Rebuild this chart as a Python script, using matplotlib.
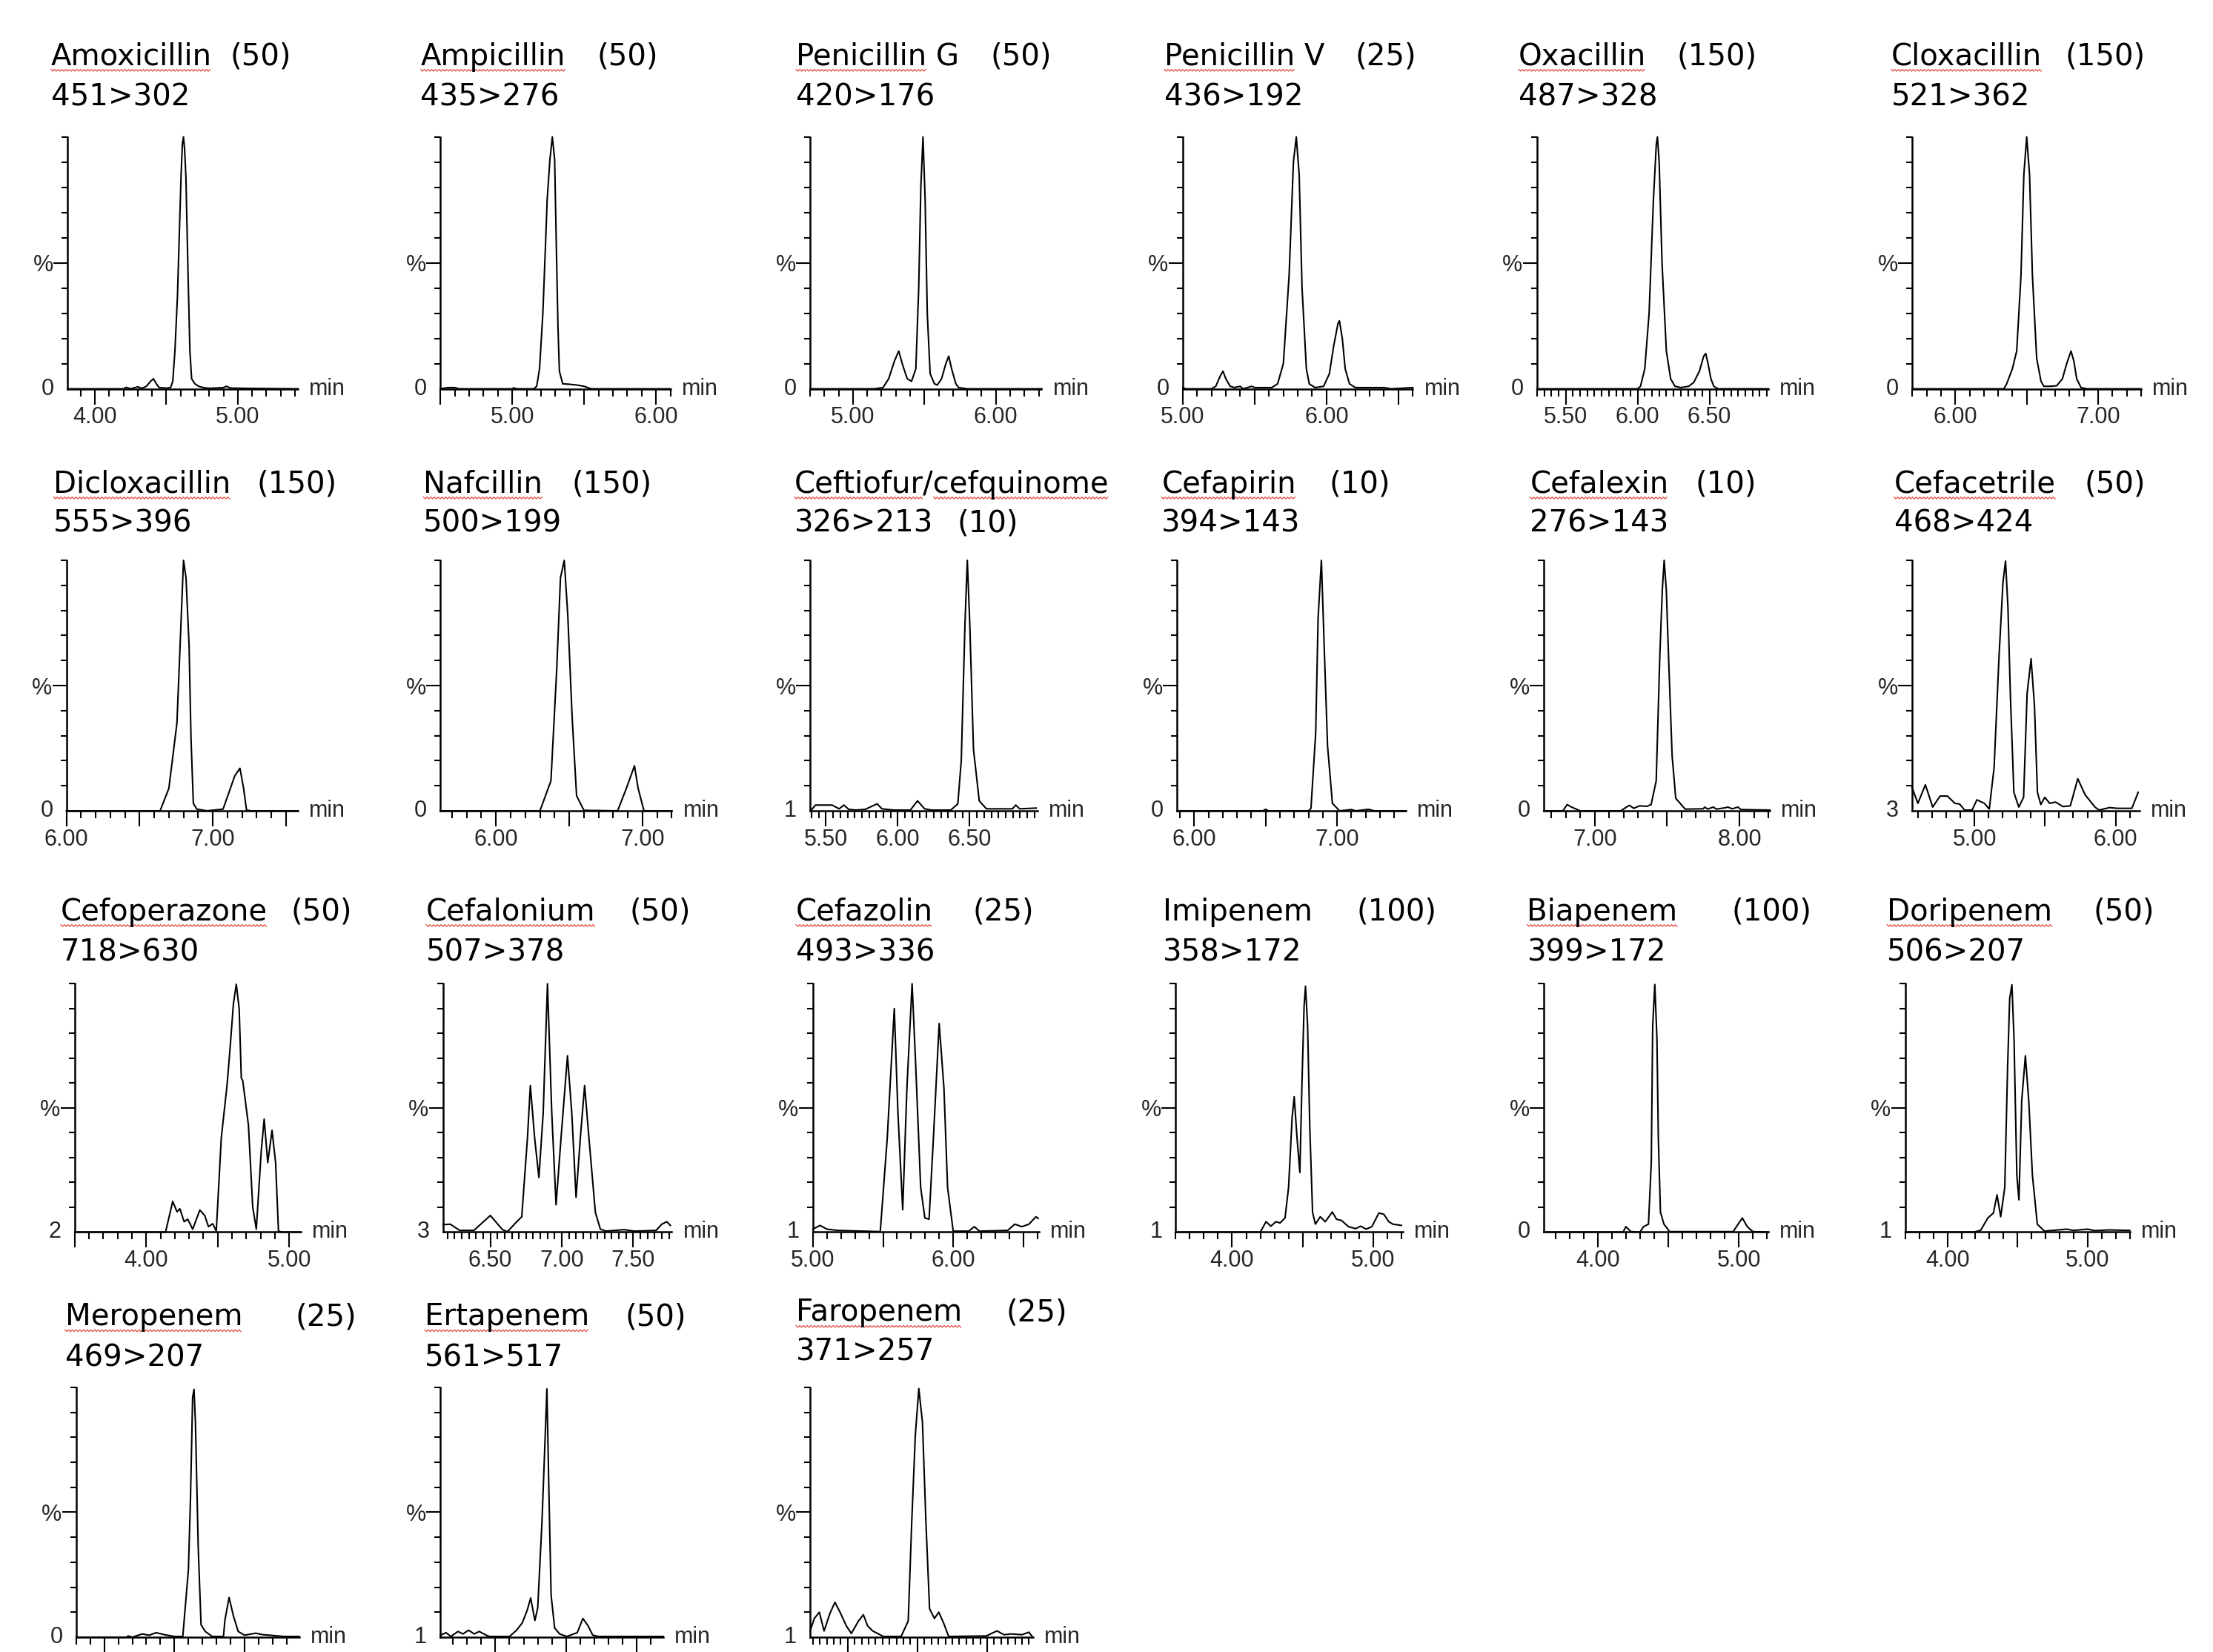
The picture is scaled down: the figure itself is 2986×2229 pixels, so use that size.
import matplotlib
matplotlib.use("Agg")
import matplotlib.pyplot as plt
import numpy as np
from matplotlib.lines import Line2D
from matplotlib.font_manager import FontProperties

# ---- chromatogram traces: (retention time [min], relative intensity [%]) ----
amoxicillin = [(3.81, 0), (4.20, 0), (4.22, 0.6), (4.25, 0), (4.30, 0.8), (4.33, 0.2), (4.36, 1.0),
               (4.39, 3.0), (4.41, 4.0), (4.43, 2.0), (4.45, 0.5), (4.50, 0.3), (4.53, 0.5), (4.545, 3),
               (4.56, 15), (4.578, 37), (4.59, 60), (4.604, 86), (4.612, 97), (4.620, 100), (4.628, 95),
               (4.637, 84), (4.653, 43), (4.665, 15), (4.677, 4), (4.70, 2), (4.726, 1), (4.76, 0.5),
               (4.80, 0.2), (4.90, 0.5), (4.92, 1.0), (4.95, 0.3), (5.05, 0.2), (5.42, 0)]
ampicillin = [(4.50, 0), (4.55, 0.5), (4.60, 0.5), (4.63, 0), (5.00, 0), (5.01, 0.4), (5.03, 0), (5.15, 0),
              (5.17, 1), (5.19, 8), (5.213, 30), (5.23, 55), (5.243, 75), (5.262, 91), (5.279, 100),
              (5.295, 91), (5.308, 53), (5.318, 25), (5.328, 7), (5.351, 2), (5.40, 1.8), (5.45, 1.5),
              (5.50, 1), (5.55, 0), (6.10, 0)]
penicillin_g = [(4.70, 0), (5.15, 0), (5.21, 0.5), (5.25, 4), (5.29, 11), (5.32, 15), (5.35, 9), (5.38, 4),
                (5.41, 3), (5.44, 8), (5.46, 40), (5.475, 80), (5.49, 100), (5.505, 75), (5.52, 30),
                (5.54, 6), (5.57, 2), (5.59, 1.5), (5.62, 4), (5.65, 10), (5.67, 13), (5.69, 8), (5.72, 2),
                (5.74, 0.5), (5.80, 0), (6.32, 0)]
penicillin_v = [(5.00, 0.5), (5.02, 0), (5.20, 0), (5.23, 1), (5.26, 5), (5.28, 7), (5.30, 4), (5.33, 1),
                (5.36, 0.5), (5.40, 1), (5.42, 0), (5.48, 1), (5.50, 0.5), (5.55, 0.5), (5.62, 0.5),
                (5.66, 2), (5.70, 10), (5.74, 45), (5.77, 90), (5.79, 100), (5.81, 85), (5.83, 40),
                (5.86, 8), (5.88, 2), (5.92, 0.5), (5.98, 1), (6.02, 6), (6.05, 17), (6.08, 26), (6.09, 27),
                (6.11, 20), (6.13, 8), (6.16, 2), (6.20, 0.5), (6.40, 0.5), (6.45, 0), (6.60, 0.5)]
oxacillin = [(5.30, 0), (6.00, 0), (6.02, 1), (6.05, 8), (6.08, 30), (6.11, 75), (6.13, 97), (6.138, 100),
             (6.15, 90), (6.17, 50), (6.20, 15), (6.23, 4), (6.26, 1), (6.30, 0.5), (6.355, 1), (6.39, 2.5),
             (6.43, 7), (6.46, 13), (6.474, 14), (6.49, 10), (6.51, 4), (6.53, 1), (6.56, 0), (6.91, 0)]
cloxacillin = [(5.70, 0), (6.34, 0), (6.36, 2), (6.40, 8), (6.43, 15), (6.46, 45), (6.48, 85), (6.50, 100),
               (6.52, 85), (6.54, 45), (6.57, 12), (6.60, 3), (6.62, 1), (6.66, 1), (6.71, 1.2), (6.75, 4),
               (6.78, 10), (6.81, 15), (6.83, 11), (6.85, 4), (6.88, 0.5), (6.92, 0), (7.30, 0)]
dicloxacillin = [(6.00, 0), (6.64, 0), (6.70, 9), (6.755, 35), (6.78, 71), (6.795, 93), (6.80, 100),
                 (6.817, 93), (6.838, 66), (6.851, 29), (6.867, 3), (6.89, 0.7), (6.93, 0.3), (6.96, 0),
                 (7.04, 0.5), (7.07, 0.7), (7.12, 9), (7.15, 14), (7.185, 17), (7.21, 9), (7.23, 0.3),
                 (7.26, 0), (7.58, 0)]
nafcillin = [(5.62, 0), (6.30, 0), (6.375, 12), (6.414, 56), (6.44, 93), (6.466, 100), (6.49, 78),
             (6.52, 37), (6.55, 6), (6.60, 0.2), (6.83, 0), (6.89, 9), (6.945, 18), (6.97, 9), (7.01, 0),
             (7.20, 0)]
ceftiofur = [(5.394, 0), (5.427, 2.3), (5.543, 2.3), (5.592, 0.8), (5.625, 2.3), (5.658, 0.6), (5.708, 0.3),
             (5.774, 0.6), (5.856, 2.8), (5.889, 0.8), (5.972, 0.3), (6.087, 0.3), (6.137, 4), (6.186, 0.8),
             (6.236, 0.3), (6.368, 0.3), (6.417, 2.8), (6.441, 20), (6.467, 75), (6.483, 100), (6.50, 75),
             (6.526, 24.5), (6.566, 4), (6.616, 0.8), (6.797, 0.8), (6.82, 2.3), (6.847, 0.8), (6.962, 1.1)]
cefapirin = [(5.88, 0), (6.48, 0), (6.50, 0.6), (6.52, 0), (6.80, 0), (6.817, 1), (6.85, 31), (6.867, 77),
             (6.89, 100), (6.91, 65), (6.933, 26), (6.967, 3), (7.017, 0), (7.10, 0.5), (7.13, 0),
             (7.22, 0.6), (7.26, 0), (7.48, 0)]
cefalexin = [(6.65, 0), (6.78, 0), (6.81, 2.5), (6.84, 1.5), (6.90, 0), (7.18, 0), (7.22, 1.5), (7.24, 2.2),
             (7.27, 1), (7.31, 2), (7.36, 1.8), (7.39, 2.5), (7.425, 12), (7.45, 62), (7.467, 88), (7.48, 100),
             (7.495, 88), (7.51, 62), (7.535, 22), (7.56, 5), (7.625, 0.7), (7.75, 0.8), (7.76, 1.5),
             (7.78, 0.7), (7.82, 1.5), (7.84, 0.7), (7.90, 1.2), (7.92, 1.5), (7.95, 0.8), (7.99, 1.5),
             (8.01, 0.5), (8.21, 0.3)]
cefacetrile = [(4.557, 9.4), (4.599, 3.0), (4.652, 10.4), (4.704, 1.5), (4.756, 5.9), (4.808, 5.9),
               (4.861, 3.0), (4.895, 2.7), (4.930, 0.3), (4.983, 0.3), (5.017, 4.4), (5.070, 3.0),
               (5.105, 0.7), (5.139, 17.3), (5.174, 61.7), (5.202, 91.3), (5.220, 99.7), (5.237, 81.4),
               (5.254, 46.9), (5.279, 7.4), (5.314, 1.5), (5.348, 5.4), (5.373, 46.9), (5.401, 60.7),
               (5.425, 42), (5.446, 7.4), (5.470, 2.5), (5.498, 5.4), (5.533, 3.0), (5.575, 3.5),
               (5.627, 1.7), (5.679, 2.0), (5.732, 12.8), (5.784, 6.4), (5.854, 1.5), (5.882, 0.3),
               (5.958, 1.3), (6.010, 1.0), (6.115, 1.0), (6.160, 7.4)]
cefoperazone = [(3.50, 0), (4.135, 0), (4.185, 12.4), (4.215, 8.2), (4.235, 9.4), (4.265, 4.2), (4.29, 5.2),
                (4.325, 1.2), (4.375, 8.9), (4.41, 6.6), (4.435, 2.2), (4.465, 3.4), (4.49, 0.4),
                (4.525, 38), (4.565, 59), (4.585, 73), (4.61, 92), (4.63, 99.8), (4.65, 90), (4.665, 62),
                (4.675, 61), (4.715, 43), (4.745, 10), (4.77, 1.2), (4.805, 33), (4.825, 45.5), (4.85, 28),
                (4.88, 41), (4.905, 28), (4.925, 0.4), (4.95, 0), (5.08, 0)]
cefalonium = [(6.17, 3), (6.22, 3.2), (6.285, 0.7), (6.385, 0.7), (6.50, 6.7), (6.585, 1), (6.62, 0.2),
              (6.685, 4.2), (6.72, 6.2), (6.76, 38), (6.78, 59), (6.81, 38), (6.84, 22), (6.87, 48),
              (6.90, 100), (6.93, 48), (6.96, 11), (6.995, 38), (7.04, 71), (7.07, 48), (7.10, 14),
              (7.13, 38), (7.16, 59), (7.19, 38), (7.235, 8), (7.27, 1.2), (7.31, 0.4), (7.435, 1),
              (7.51, 0.4), (7.66, 0.7), (7.70, 3.2), (7.735, 4.2), (7.76, 2.7)]
cefazolin = [(5.00, 1.2), (5.05, 2.7), (5.10, 1.2), (5.177, 0.7), (5.48, 0.2), (5.53, 38), (5.58, 90),
             (5.606, 48), (5.64, 9), (5.67, 58), (5.707, 100), (5.732, 68), (5.768, 18), (5.798, 5.7),
             (5.828, 5.2), (5.859, 38), (5.90, 84), (5.934, 58), (5.96, 18), (6.00, 0.4), (6.111, 0.4),
             (6.15, 2.2), (6.187, 0.4), (6.389, 0.7), (6.439, 3.2), (6.49, 2.2), (6.54, 3.2), (6.59, 6.2),
             (6.606, 5.5)]
imipenem = [(3.60, 0), (4.20, 0), (4.24, 4.2), (4.275, 2.4), (4.31, 4.2), (4.34, 3.7), (4.375, 5.7),
            (4.40, 18), (4.425, 46), (4.44, 54.5), (4.46, 38), (4.48, 24), (4.495, 60), (4.51, 91),
            (4.52, 99), (4.535, 83), (4.55, 43), (4.57, 8), (4.59, 3.2), (4.625, 6.2), (4.66, 4.2),
            (4.71, 8.1), (4.74, 5.2), (4.775, 4.7), (4.825, 2.2), (4.875, 1.4), (4.91, 2.4), (4.95, 1.2),
            (4.99, 2.2), (5.04, 7.7), (5.075, 7.2), (5.11, 4.2), (5.14, 3.2), (5.20, 2.7)]
biapenem = [(3.62, 0), (4.18, 0), (4.20, 2.2), (4.235, 0.2), (4.30, 0), (4.325, 2.2), (4.36, 3.2),
            (4.38, 28), (4.39, 83), (4.405, 99.7), (4.42, 78), (4.43, 38), (4.445, 8), (4.47, 3.2),
            (4.51, 0.2), (4.96, 0.2), (4.995, 3.2), (5.025, 5.7), (5.06, 2.2), (5.10, 0.2), (5.21, 0)]
doripenem = [(3.70, 0), (4.187, 0), (4.237, 0.7), (4.288, 5.7), (4.328, 7.7), (4.354, 15), (4.38, 6.2),
             (4.409, 18), (4.429, 66), (4.444, 94), (4.46, 99.6), (4.475, 78), (4.495, 23), (4.51, 13),
             (4.53, 53), (4.556, 71), (4.58, 53), (4.606, 23), (4.641, 3.2), (4.692, 0.4), (4.85, 1.2),
             (4.90, 0.7), (5.00, 1.2), (5.05, 0.6), (5.15, 0.9), (5.30, 0.7)]
meropenem = [(3.80, 0), (4.16, 0), (4.17, 0.5), (4.20, 0), (4.27, 1.3), (4.32, 0.8), (4.37, 1.8), (4.43, 1),
             (4.50, 0.3), (4.56, 0.3), (4.60, 27), (4.615, 56), (4.63, 96), (4.64, 99.2), (4.65, 86),
             (4.67, 36), (4.69, 5), (4.72, 2.3), (4.77, 0.3), (4.85, 0.3), (4.86, 6.7), (4.89, 15.9),
             (4.92, 8.7), (4.955, 2.3), (5.00, 0.8), (5.08, 1.6), (5.13, 1), (5.18, 0.8), (5.28, 0.3),
             (5.39, 0.3)]
ertapenem = [(3.61, 0.8), (3.65, 1.8), (3.685, 0.3), (3.735, 2.3), (3.77, 1.3), (3.81, 2.8), (3.85, 1.3),
             (3.885, 2.3), (3.935, 0.8), (3.96, 0.3), (4.10, 0.3), (4.15, 2.8), (4.19, 5.7), (4.225, 10.7),
             (4.25, 15.7), (4.28, 6.7), (4.30, 11.7), (4.33, 46), (4.35, 76), (4.365, 99.4), (4.38, 56),
             (4.395, 16.7), (4.42, 3.7), (4.455, 1.3), (4.505, 0.3), (4.58, 1.8), (4.62, 7.5), (4.655, 4.7),
             (4.69, 0.8), (4.73, 0.3), (5.19, 0.3)]
faropenem = [(4.23, 2.5), (4.26, 7.5), (4.296, 10), (4.33, 2.5), (4.372, 9.5), (4.408, 14), (4.449, 9.5),
             (4.49, 4.5), (4.526, 1.5), (4.577, 6.5), (4.612, 9), (4.643, 4.5), (4.679, 2.5), (4.714, 1.5),
             (4.755, 0.3), (4.883, 0.3), (4.934, 6.5), (4.959, 46), (4.985, 81), (5.01, 99.5), (5.036, 86),
             (5.061, 46), (5.087, 11.4), (5.122, 7.5), (5.153, 10), (5.189, 5.5), (5.224, 0.3), (5.495, 0.5),
             (5.531, 1.5), (5.571, 2.5), (5.622, 1), (5.673, 1.3), (5.75, 1), (5.80, 2), (5.827, 0)]

traces = [amoxicillin, ampicillin, penicillin_g, penicillin_v, oxacillin, cloxacillin,
          dicloxacillin, nafcillin, ceftiofur, cefapirin, cefalexin, cefacetrile,
          cefoperazone, cefalonium, cefazolin, imipenem, biapenem, doripenem,
          meropenem, ertapenem, faropenem]

names = ["Amoxicillin", "Ampicillin", "Penicillin G", "Penicillin V", "Oxacillin", "Cloxacillin",
         "Dicloxacillin", "Nafcillin", "Ceftiofur/cefquinome", "Cefapirin", "Cefalexin", "Cefacetrile",
         "Cefoperazone", "Cefalonium", "Cefazolin", "Imipenem", "Biapenem", "Doripenem",
         "Meropenem", "Ertapenem", "Faropenem"]
levels = ["(50)", "(50)", "(50)", "(25)", "(150)", "(150)",
          "(150)", "(150)", "(10)", "(10)", "(10)", "(50)",
          "(50)", "(50)", "(25)", "(100)", "(100)", "(50)",
          "(25)", "(50)", "(25)"]
transitions = ["451>302", "435>276", "420>176", "436>192", "487>328", "521>362",
               "555>396", "500>199", "326>213", "394>143", "276>143", "468>424",
               "718>630", "507>378", "493>336", "358>172", "399>172", "506>207",
               "469>207", "561>517", "371>257"]
baseline_labels = ["0", "0", "0", "0", "0", "0",
                   "0", "0", "1", "0", "0", "3",
                   "2", "3", "1", "1", "0", "1",
                   "0", "1", "1"]
# words with the spell-check squiggle
squiggle_words = [["Amoxicillin"], ["Ampicillin"], ["Penicillin"], ["Penicillin"], ["Oxacillin"], ["Cloxacillin"],
                  ["Dicloxacillin"], ["Nafcillin"], ["Ceftiofur", "cefquinome"], ["Cefapirin"], ["Cefalexin"], ["Cefacetrile"],
                  ["Cefoperazone"], ["Cefalonium"], ["Cefazolin"], [], ["Biapenem"], ["Doripenem"],
                  ["Meropenem"], ["Ertapenem"], ["Faropenem"]]
x_ranges = [(3.81, 5.42), (4.50, 6.10), (4.70, 6.32), (5.00, 6.60), (5.30, 6.91), (5.70, 7.30),
            (6.00, 7.58), (5.62, 7.20), (5.39, 6.97), (5.88, 7.48), (6.65, 8.21), (4.56, 6.17),
            (3.50, 5.08), (6.17, 7.77), (5.00, 6.61), (3.60, 5.21), (3.62, 5.21), (3.70, 5.30),
            (3.80, 5.39), (3.61, 5.19), (4.23, 5.83)]
label_steps = [1.0, 1.0, 1.0, 1.0, 0.5, 1.0,
               1.0, 1.0, 0.5, 1.0, 1.0, 1.0,
               1.0, 0.5, 1.0, 1.0, 1.0, 1.0,
               1.0, 1.0, 0.5]

# ---- layout (pixels of the 1568-wide reference) ----
row_top = [97, 397, 697, 983]
row_bot = [275.5, 574.5, 873, 1160]
ax_left = [48, 312, 574, 838, 1089, 1355,
           47, 312, 574, 834, 1094, 1355,
           53, 314, 576, 833, 1094, 1350,
           54, 312, 574]
ax_right = [211, 475, 738, 1001, 1253, 1517,
            211, 476, 735, 996, 1254, 1516,
            213, 476, 736, 994, 1253, 1509,
            212, 470, 732]
name_x = [36, 298, 564, 825, 1076, 1340,
          38, 300, 563, 823, 1084, 1342,
          43, 302, 564, 824, 1082, 1337,
          46, 301, 564]
level_x = [163, 423, 702, 960, 1188, 1463,
           182, 405, 678, 942, 1201, 1477,
           206, 446, 689, 961, 1227, 1483,
           209, 443, 713]
line1_y = [46, 349, 652, 939]
line2_y = [75, 377, 681, 968]

W, H = 2986, 2229
S = W / 1568.0
TITLE_SIZE = 29
SMALL = 22
INK = "#262626"

plt.rcParams['font.family'] = ['Liberation Sans Narrow', 'Liberation Sans', 'DejaVu Sans']

fig = plt.figure(figsize=(W / 100, H / 100), dpi=100)
fig.patch.set_facecolor("white")
renderer = fig.canvas.get_renderer()
title_prop = FontProperties(family='DejaVu Sans', size=TITLE_SIZE)


def text_w(s):
    w, h, d = renderer.get_text_width_height_descent(s, title_prop, ismath=False)
    return w


def fx(px):
    return px * S / W


def fy(py):
    return 1 - py * S / H


for i, trace in enumerate(traces):
    row = i // 6
    lo, hi = x_ranges[i]

    ax = fig.add_axes([fx(ax_left[i]), fy(row_bot[row]),
                       fx(ax_right[i]) - fx(ax_left[i]), fy(row_top[row]) - fy(row_bot[row])])
    t, y = np.array(trace).T
    ax.plot(t, y, color="black", lw=1.5, clip_on=False)
    ax.set_xlim(lo, hi)
    ax.set_ylim(0, 100)
    ax.set_facecolor("none")
    for side in ["top", "right"]:
        ax.spines[side].set_visible(False)
    for side in ["left", "bottom"]:
        ax.spines[side].set_linewidth(1.8)

    # y: % axis with decile ticks
    ax.set_yticks([50])
    ax.set_yticklabels(["%"], fontsize=SMALL, color=INK)
    ax.set_yticks([10, 20, 30, 40, 60, 70, 80, 90, 100], minor=True)
    ax.tick_params(axis="y", which="major", length=14, width=1.5, pad=0)
    ax.tick_params(axis="y", which="minor", length=6, width=1.5)

    # x: retention time
    minor_step = 0.05 if label_steps[i] == 0.5 else 0.1
    majors = np.arange(np.ceil(lo / 0.5 - 1e-6) * 0.5, hi + 1e-6, 0.5)
    minors = np.arange(np.ceil(lo / minor_step - 1e-6) * minor_step, hi + 1e-6, minor_step)
    ax.set_xticks(majors)
    ax.set_xticklabels(["%.2f" % m if abs(m / label_steps[i] - round(m / label_steps[i])) < 1e-6 else ""
                        for m in majors], fontsize=SMALL, color=INK)
    ax.set_xticks(minors, minor=True)
    ax.tick_params(axis="x", which="major", length=15, width=1.5, pad=2)
    ax.tick_params(axis="x", which="minor", length=7, width=1.5)

    ax.annotate(baseline_labels[i], xy=(0, 0), xycoords=("axes fraction", "data"),
                xytext=(-13, 0), textcoords="offset points", ha="right", va="center",
                fontsize=SMALL, color=INK, annotation_clip=False)
    ax.annotate("min", xy=(1, 0), xycoords=("axes fraction", "data"),
                xytext=(11, 0), textcoords="offset points", ha="left", va="center",
                fontsize=SMALL, color=INK, annotation_clip=False)

    # compound title, SRM transition and concentration level
    y1 = line1_y[row] - (3 if i == 20 else 0)
    y2 = line2_y[row] - (4 if i == 20 else 0)
    fig.text(fx(name_x[i]), fy(y1), names[i], fontproperties=title_prop, va="baseline", ha="left")
    fig.text(fx(name_x[i]), fy(y2), transitions[i], fontproperties=title_prop, va="baseline", ha="left")
    ly = y2 if i == 8 else y1
    fig.text(fx(level_x[i]), fy(ly), levels[i], fontproperties=title_prop, va="baseline", ha="left")

    # red spell-check squiggle under the names
    for word in squiggle_words[i]:
        k = names[i].index(word)
        x0 = name_x[i] * S + (text_w(names[i][:k]) if k > 0 else 0)
        x1 = x0 + text_w(word)
        xs = np.arange(x0, x1, 2.5)
        ys = y1 * S + 6 + (np.arange(len(xs)) % 2) * 2.5
        fig.add_artist(Line2D(xs / W, 1 - ys / H, transform=fig.transFigure,
                              color="#e5483e", lw=0.9))

fig.savefig("out.png", dpi=100, facecolor="white")
